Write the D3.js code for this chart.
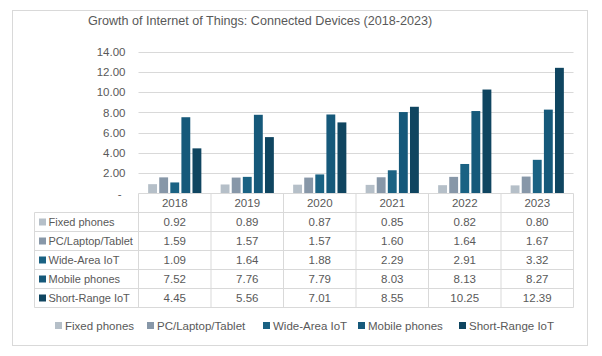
<!DOCTYPE html>
<html><head><meta charset="utf-8">
<script src="https://cdn.jsdelivr.net/npm/d3@7"></script>
<style>
html,body{margin:0;padding:0;background:#fff;}
text{font-family:"Liberation Sans",Arial,sans-serif;fill:#595959;}
</style></head>
<body><svg id="c" width="602" height="356"></svg>
<script>
const years = ["2018","2019","2020","2021","2022","2023"];
const seriesNames = ["Fixed phones","PC/Laptop/Tablet","Wide-Area IoT","Mobile phones","Short-Range IoT"];
const fixedPhones = [0.92,0.89,0.87,0.85,0.82,0.80];
const pcLaptopTablet = [1.59,1.57,1.57,1.60,1.64,1.67];
const wideAreaIoT = [1.09,1.64,1.88,2.29,2.91,3.32];
const mobilePhones = [7.52,7.76,7.79,8.03,8.13,8.27];
const shortRangeIoT = [4.45,5.56,7.01,8.55,10.25,12.39];
const yTicks = [0,2,4,6,8,10,12,14];
const colors = ["#B5BFC8","#8797A8","#1A6283","#16597A","#0F4560"];
const seriesValues = [fixedPhones,pcLaptopTablet,wideAreaIoT,mobilePhones,shortRangeIoT];

const svg = d3.select("#c");
const grid = "#D9D9D9";
svg.append("rect").attr("x",12.5).attr("y",10.5).attr("width",575).attr("height",335)
  .attr("fill","#fff").attr("stroke",grid);

svg.append("text").attr("x",88).attr("y",25).attr("font-size",12.6)
  .text("Growth of Internet of Things: Connected Devices (2018-2023)");

const left = 138.5, right = 573.5, top0 = 51.5, base = 193.5;
const x = d3.scaleBand().domain(years).range([left,right]);
const x1 = d3.scaleBand().domain(seriesNames).range([0,x.bandwidth()]).paddingInner(0.2).paddingOuter(0.87);
const y = d3.scaleLinear().domain([0,14]).range([base,top0]);

svg.append("g").selectAll("line").data(yTicks.filter(d=>d>0)).join("line")
  .attr("x1",left).attr("x2",right).attr("y1",d=>Math.round(y(d))+0.5).attr("y2",d=>Math.round(y(d))+0.5)
  .attr("stroke",grid);

const yAxis = d3.axisLeft(y).tickValues(yTicks).tickSize(0).tickPadding(0)
  .tickFormat(d=> d===0 ? "-" : d3.format(".2f")(d));
const ya = svg.append("g").attr("transform",`translate(${left-13},0)`).call(yAxis);
ya.select(".domain").remove();
ya.selectAll("text").attr("font-size",11.5).style("font-family","'Liberation Sans',Arial,sans-serif").attr("fill","#595959");
ya.selectAll(".tick").filter(d=>d===0).select("text").attr("dx",-4);

seriesNames.forEach((s,i)=>{
  svg.append("g").selectAll("rect").data(seriesValues[i]).join("rect")
    .attr("x",(d,j)=>x(years[j])+x1(s))
    .attr("width",x1.bandwidth())
    .attr("y",d=>y(d)).attr("height",d=>base-y(d))
    .attr("fill",colors[i]);
});

const rowH = 19, tLeft = 34.5;
const tg = svg.append("g");
for(let r=0;r<=6;r++){
  const yy = base + r*rowH;
  tg.append("line").attr("x1", r===0? left : tLeft).attr("x2",right).attr("y1",yy).attr("y2",yy).attr("stroke",grid);
}
tg.append("line").attr("x1",tLeft).attr("x2",tLeft).attr("y1",base+rowH).attr("y2",base+6*rowH).attr("stroke",grid);
years.forEach(yr=>{
  const xx = x(yr);
  tg.append("line").attr("x1",xx).attr("x2",xx).attr("y1",base).attr("y2",base+6*rowH).attr("stroke",grid);
});
tg.append("line").attr("x1",right).attr("x2",right).attr("y1",base).attr("y2",base+6*rowH).attr("stroke",grid);
tg.selectAll("text.yr").data(years).join("text").attr("class","yr")
  .attr("x",d=>x(d)+x.bandwidth()/2).attr("y",base+rowH/2).attr("dy","0.35em")
  .attr("text-anchor","middle").attr("font-size",11.5).text(d=>d);
seriesNames.forEach((s,i)=>{
  const cy = base + (i+1)*rowH + rowH/2;
  tg.append("rect").attr("x",39).attr("y",cy-3.5).attr("width",7).attr("height",7).attr("fill",colors[i]);
  tg.append("text").attr("x",48.5).attr("y",cy).attr("dy","0.35em").attr("font-size",11).text(s);
  tg.selectAll(null).data(seriesValues[i]).join("text")
    .attr("x",(d,j)=>x(years[j])+x.bandwidth()/2).attr("y",cy).attr("dy","0.35em")
    .attr("text-anchor","middle").attr("font-size",11.5).text(d=>d3.format(".2f")(d));
});

const legX = [55,147,263,358,459];
const lg = svg.append("g");
seriesNames.forEach((s,i)=>{
  lg.append("rect").attr("x",legX[i]).attr("y",322).attr("width",7).attr("height",7).attr("fill",colors[i]);
  lg.append("text").attr("x",legX[i]+10).attr("y",325.5).attr("dy","0.35em").attr("font-size",11.5).text(s);
});
</script></body></html>
